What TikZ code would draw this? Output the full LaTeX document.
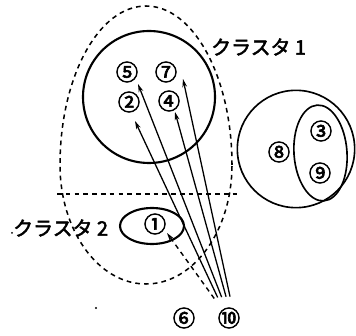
\documentclass[tikz,border=0pt]{standalone}
\usepackage{fontspec}
\usepackage{tikz}
\usetikzlibrary{arrows.meta}
\newfontfamily\jpfont[FakeBold=2.5]{Noto Sans CJK JP}
\newfontfamily\numfont[FakeBold=3]{Noto Sans CJK JP}
\tikzset{
  numnode/.style={inner sep=0pt,font=\numfont\fontsize{19pt}{19pt}\selectfont},
  clusterlabel/.style={anchor=west,inner sep=0pt,font=\jpfont\fontsize{17pt}{17pt}\selectfont},
  arr/.style={line width=1.1pt,-{Stealth[length=7pt,width=4pt]}},
  dasharr/.style={line width=1.2pt,dash pattern=on 4pt off 3.5pt,-{Stealth[length=7pt,width=4pt]}},
  dashline/.style={line width=1.3pt,dash pattern=on 4pt off 3.5pt}
}

\begin{document}
\begin{tikzpicture}[x=1cm,y=1cm]
\path[use as bounding box] (0,0) rectangle (10.68,10.08);
% dashed egg and split line
\draw[dashline] (6.96,5.13) arc[start angle=0,end angle=180,x radius=2.58,y radius=4.77]
  arc[start angle=180,end angle=360,x radius=2.58,y radius=3.57];
\draw[dashline] (1.71,4.26) -- (7.14,4.26);
% clusters
\draw[line width=1.8pt] (4.47,7.17) circle (1.98);
\draw[line width=1.4pt] (8.88,5.61) circle (1.76);
\draw[line width=1.4pt,rotate around={4:(9.615,5.49)}] (9.615,5.49) ellipse (0.795 and 1.44);
\draw[line width=1.8pt] (4.56,3.30) ellipse (0.96 and 0.54);
% numbers
\node[numnode] (n5) at (3.81,7.92) {⑤};
\node[numnode] (n7) at (4.98,7.92) {⑦};
\node[numnode] (n2) at (3.87,7.02) {②};
\node[numnode] (n4) at (5.07,7.05) {④};
\node[numnode] (n8) at (8.37,5.52) {⑧};
\node[numnode] (n3) at (9.63,6.15) {③};
\node[numnode] (n9) at (9.60,4.89) {⑨};
\node[numnode] (n1) at (4.65,3.36) {①};
\node[numnode] (n6) at (5.52,0.54) {⑥};
\node[numnode] (n10) at (6.87,0.54) {⑩};
\node[clusterlabel] (lab1) at (6.33,8.67) {クラスタ 1};
\node[clusterlabel] (lab2) at (0.39,3.24) {クラスタ 2};
\fill (0.36,3.09) circle (0.03);
\fill (2.88,0.84) circle (0.035);
% arrow tips
\coordinate (t2) at (4.05,6.45);
\coordinate (t5) at (4.14,7.56);
\coordinate (t4) at (5.25,6.72);
\coordinate (t7) at (5.49,7.71);
\coordinate (t1) at (5.01,3.09);
\draw[arr,shorten <=0.33cm] ([xshift=-0.2cm]n10.north) -- (t2);
\draw[arr,shorten <=0.33cm] ([xshift=-0.1cm]n10.north) -- (t5);
\draw[arr,shorten <=0.33cm] (n10.north) -- (t4);
\draw[arr,shorten <=0.33cm] ([xshift=0.1cm]n10.north) -- (t7);
\draw[dasharr,shorten <=0.33cm] ([xshift=-0.25cm]n10.north) -- (t1);
\end{tikzpicture}
\end{document}
